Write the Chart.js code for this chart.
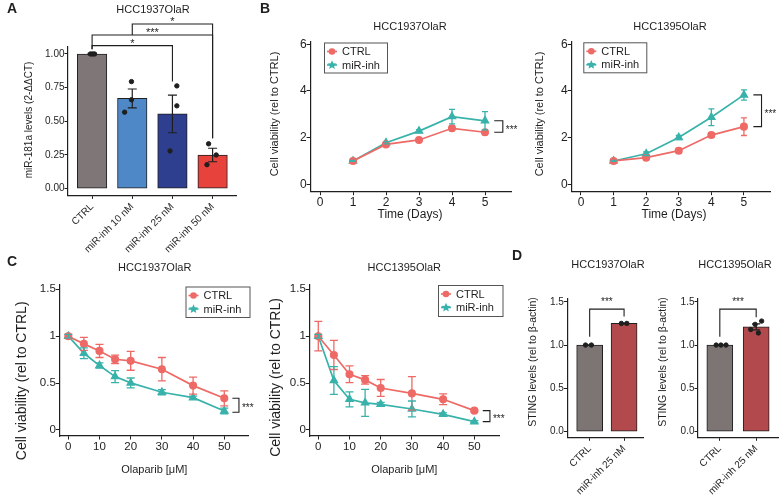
<!DOCTYPE html>
<html lang="en">
<head>
<meta charset="UTF-8">
<title>miR-181a inhibition in OlaR cells</title>
<script src="https://cdn.jsdelivr.net/npm/chart.js"></script>
<style>
  body { margin: 0; background: #fff; }
  #wrap { position: relative; width: 783px; height: 496px; overflow: hidden; }
  #wrap canvas { position: absolute; left: 0; top: 0; }
</style>
</head>
<body>
<div id="wrap">
  <canvas id="cA" width="783" height="496"></canvas>
  <canvas id="cB1" width="783" height="496"></canvas>
  <canvas id="cB2" width="783" height="496"></canvas>
  <canvas id="cC1" width="783" height="496"></canvas>
  <canvas id="cC2" width="783" height="496"></canvas>
  <canvas id="cD1" width="783" height="496"></canvas>
  <canvas id="cD2" width="783" height="496"></canvas>
</div>

<script>
  // ---- data ----
  const groupsA = ['CTRL', 'miR-inh 10 nM', 'miR-inh 25 nM', 'miR-inh 50 nM'];
  const meanA = [1.0, 0.67, 0.555, 0.25];
  const semA = [0.005, 0.07, 0.14, 0.05];
  const repsA = [[1.0, 1.0, 1.0], [0.795, 0.66, 0.568], [0.763, 0.615, 0.28], [0.333, 0.25, 0.178]];
  const ticksA = [0, 0.25, 0.5, 0.75, 1];

  const days = [1, 2, 3, 4, 5];
  const dayTicks = [0, 1, 2, 3, 4, 5];
  const growthTicks = [0, 2, 4, 6];
  const g1937Ctrl = [1.0, 1.71, 1.90, 2.40, 2.23];
  const g1937CtrlSd = [0.02, 0.05, 0.07, 0.10, 0.10];
  const g1937Inh = [1.0, 1.78, 2.28, 2.90, 2.72];
  const g1937InhSd = [0.02, 0.05, 0.06, 0.31, 0.39];
  const g1395Ctrl = [1.0, 1.14, 1.44, 2.11, 2.47];
  const g1395CtrlSd = [0.02, 0.06, 0.10, 0.10, 0.38];
  const g1395Inh = [1.0, 1.31, 2.01, 2.87, 3.83];
  const g1395InhSd = [0.02, 0.08, 0.09, 0.36, 0.22];

  const dose = [0, 5, 10, 15, 20, 30, 40, 50];
  const doseTicks = [0, 10, 20, 30, 40, 50];
  const viabTicks = [0, 0.5, 1, 1.5];
  const o1937Ctrl = [1.0, 0.918, 0.843, 0.754, 0.737, 0.648, 0.473, 0.338];
  const o1937CtrlSd = [0.02, 0.07, 0.07, 0.045, 0.10, 0.125, 0.09, 0.08];
  const o1937Inh = [1.0, 0.818, 0.687, 0.569, 0.502, 0.402, 0.345, 0.203];
  const o1937InhSd = [0.02, 0.057, 0.028, 0.064, 0.052, 0.028, 0.015, 0.03];
  const o1395Ctrl = [1.0, 0.80, 0.594, 0.534, 0.448, 0.39, 0.327, 0.206];
  const o1395CtrlSd = [0.157, 0.155, 0.09, 0.045, 0.09, 0.178, 0.057, 0.01];
  const o1395Inh = [1.0, 0.527, 0.327, 0.29, 0.274, 0.224, 0.167, 0.089];
  const o1395InhSd = [0.02, 0.148, 0.08, 0.144, 0.02, 0.085, 0.015, 0.01];

  const groupsD = ['CTRL', 'miR-inh 25 nM'];
  const sting1937Mean = [1.0, 1.25];
  const sting1937Sem = [0.003, 0.005];
  const sting1937Reps = [[1.0, 1.0], [1.25, 1.25]];
  const sting1395Mean = [1.0, 1.21];
  const sting1395Sem = [0.003, 0.035];
  const sting1395Reps = [[1.0, 1.0, 1.0], [1.277, 1.239, 1.18, 1.14]];
  const stingTicks = [0, 0.5, 1, 1.5];

  // ---- styling ----
  const FONT = '"Liberation Sans", Arial, sans-serif';
  const INK = '#1f1f1f';
  const RED = '#ee6a66';
  const TEAL = '#38b2aa';
  const W = 783, H = 496;
  Chart.defaults.font.family = FONT;
  Chart.defaults.color = INK;

  // horizontal spread of the replicate dots
  const jitA = [[-0.04, 0.06, 0.01], [-0.02, -0.02, -0.19], [0.11, 0.11, -0.06], [-0.1, 0.09, -0.14]];
  const jitD1 = [[-0.12, 0.05], [-0.08, 0.08]];
  const jitD2 = [[-0.1, 0.03, 0.17], [0.15, -0.03, -0.15, 0.06]];

  function axis(range, ticks, fmt, size, rot) {
    return {
      type: 'linear', min: range[0], max: range[1], offset: false,
      afterBuildTicks: s => { s.ticks = ticks.map(v => ({ value: v })); },
      grid: { offset: false, drawOnChartArea: false, tickLength: 3.5, color: INK },
      border: { color: INK, width: 1.2 },
      ticks: { color: INK, padding: rot ? 2 : 0, autoSkip: false, minRotation: rot || 0, maxRotation: rot || 0,
               font: { size: size }, callback: fmt }
    };
  }

  // box = chart area [left, top, right, bottom] in page pixels;
  // the axes take all the room to the left and below so labels are never clipped
  function options(box, x, y) {
    x.afterFit = s => { s.height = H - box[3]; };
    y.afterFit = s => { s.width = box[0]; };
    return {
      responsive: false, animation: false, events: [],
      layout: { padding: { left: 0, top: box[1], right: W - box[2], bottom: 0 } },
      plugins: { legend: { display: false }, tooltip: { enabled: false } },
      scales: { x: x, y: y }
    };
  }

  function star(ctx, cx, cy, r) {
    ctx.beginPath();
    for (let k = 0; k < 10; k++) {
      const a = -Math.PI / 2 + k * Math.PI / 5, rr = k % 2 ? r * 0.45 : r;
      ctx.lineTo(cx + rr * Math.cos(a), cy + rr * Math.sin(a));
    }
    ctx.closePath();
    ctx.fill();
  }

  function decor(spec) {
    return {
      id: 'decor',
      afterDatasetsDraw(chart) {
        const { ctx, scales: { x, y } } = chart;
        ctx.save();
        ctx.lineWidth = spec.errWidth || 1.3;
        chart.data.datasets.forEach(ds => {
          if (!ds.err) return;
          ctx.strokeStyle = ds.errColor || ds.borderColor;
          ds.data.forEach((p, i) => {
            const px = x.getPixelForValue(p.x);
            const top = y.getPixelForValue(p.y + ds.err[i]);
            const bot = y.getPixelForValue(p.y - ds.err[i]);
            const c = spec.cap;
            ctx.beginPath();
            ctx.moveTo(px, top); ctx.lineTo(px, bot);
            ctx.moveTo(px - c, top); ctx.lineTo(px + c, top);
            ctx.moveTo(px - c, bot); ctx.lineTo(px + c, bot);
            ctx.stroke();
          });
        });
        ctx.restore();
      },
      afterDraw(chart) {
        const { ctx, scales: { x, y } } = chart;
        ctx.save();
        ctx.strokeStyle = INK;
        ctx.fillStyle = INK;
        ctx.lineWidth = 1.1;
        ctx.textAlign = 'center';
        ctx.font = (spec.starSize || 10) + 'px ' + FONT;
        (spec.brackets || []).forEach(b => {
          const x1 = x.getPixelForValue(b.x1), x2 = x.getPixelForValue(b.x2), yy = y.getPixelForValue(b.y);
          ctx.beginPath();
          ctx.moveTo(x1, y.getPixelForValue(b.tip1));
          ctx.lineTo(x1, yy); ctx.lineTo(x2, yy);
          ctx.lineTo(x2, y.getPixelForValue(b.tip2));
          ctx.stroke();
          ctx.fillText(b.label, (x1 + x2) / 2, yy + spec.starDy);
        });
        (spec.side || []).forEach(b => {
          const x1 = x.getPixelForValue(b.x1), x2 = x.getPixelForValue(b.x2);
          const ya = y.getPixelForValue(b.y1), yb = y.getPixelForValue(b.y2);
          ctx.beginPath();
          ctx.moveTo(x1, ya); ctx.lineTo(x2, ya); ctx.lineTo(x2, yb); ctx.lineTo(x1, yb);
          ctx.stroke();
          ctx.textAlign = 'left';
          ctx.fillText(b.label, x2 + 3, (ya + yb) / 2 + 6);
        });
        if (spec.legend) {
          const L = spec.legend;
          ctx.strokeStyle = '#555';
          ctx.lineWidth = 1;
          ctx.strokeRect(L.x + 0.5, L.y + 0.5, L.w, L.h);
          ctx.font = '11px ' + FONT;
          ctx.textAlign = 'left';
          ctx.textBaseline = 'middle';
          chart.data.datasets.forEach((ds, i) => {
            const cy = L.y + 9 + i * 13.5, cx = L.x + 8;
            ctx.strokeStyle = ds.borderColor;
            ctx.fillStyle = ds.borderColor;
            ctx.lineWidth = 1.6;
            ctx.beginPath(); ctx.moveTo(cx - 5, cy); ctx.lineTo(cx + 5, cy); ctx.stroke();
            if (i === 0) { ctx.beginPath(); ctx.arc(cx, cy, 3.3, 0, 2 * Math.PI); ctx.fill(); }
            else star(ctx, cx, cy, 4.8);
            ctx.fillStyle = INK;
            ctx.fillText(ds.label, L.x + 18, cy + 0.5);
          });
        }
        ctx.textBaseline = 'middle';
        ctx.textAlign = 'center';
        ctx.fillStyle = INK;
        (spec.texts || []).forEach(t => {
          ctx.save();
          ctx.font = (t.bold ? 'bold ' : '') + t.size + 'px ' + FONT;
          ctx.translate(t.x, t.y);
          if (t.rot) ctx.rotate(-Math.PI / 2);
          ctx.fillText(t.s, 0, 0);
          ctx.restore();
        });
        ctx.restore();
      }
    };
  }

  function barChart(id, box, xr, groups, mean, sem, reps, jit, colors, yr, yTicks, yFmt, size, barW, spec) {
    return new Chart(document.getElementById(id), {
      type: 'bar',
      data: {
        datasets: [
          { type: 'scatter', order: 0, pointRadius: 2.2, backgroundColor: INK, borderColor: INK,
            data: reps.flatMap((r, i) => r.map((v, j) => ({ x: i + 1 + jit[i][j], y: v }))) },
          { order: 1, data: mean.map((v, i) => ({ x: i + 1, y: v })), err: sem, errColor: INK,
            backgroundColor: colors, borderColor: INK, borderWidth: 1, borderSkipped: false, barThickness: barW }
        ]
      },
      options: options(box,
        axis(xr, groups.map((g, i) => i + 1), v => groups[v - 1], size, 45),
        axis(yr, yTicks, yFmt, size)),
      plugins: [decor(spec)]
    });
  }

  function lineChart(id, box, xs, ctrl, ctrlSd, inh, inhSd, xAxis, yAxis, spec) {
    return new Chart(document.getElementById(id), {
      type: 'line',
      data: {
        datasets: [
          { label: 'CTRL', data: xs.map((v, i) => ({ x: v, y: ctrl[i] })), err: ctrlSd,
            borderColor: RED, backgroundColor: RED, borderWidth: 1.7, pointStyle: 'circle', pointRadius: 3.2 },
          { label: 'miR-inh', data: xs.map((v, i) => ({ x: v, y: inh[i] })), err: inhSd,
            borderColor: TEAL, backgroundColor: TEAL, borderWidth: 1.7, pointStyle: 'triangle', pointRadius: 3.8 }
        ]
      },
      options: options(box, xAxis, yAxis),
      plugins: [decor(spec)]
    });
  }

  const str = v => String(v);

  // ---- A ----
  barChart('cA', [68, 46.7, 236.7, 195.4], [0.4, 4.6], groupsA, meanA, semA, repsA, jitA,
    ['#7f7777', '#4e88c7', '#2f3f8f', '#e8423d'], [-0.05, 1.054], ticksA, v => v.toFixed(2), 10, 29.5, {
      cap: 4.5, errWidth: 1.2, starSize: 11, starDy: 1.5,
      brackets: [
        { x1: 1, x2: 3, y: 1.062, tip1: 1.035, tip2: 0.795, label: '*' },
        { x1: 1, x2: 4, y: 1.141, tip1: 1.035, tip2: 0.374, label: '***' },
        { x1: 2, x2: 4, y: 1.223, tip1: 1.141, tip2: 0.374, label: '*' }
      ],
      texts: [
        { s: 'A', x: 12, y: 9, size: 14, bold: true },
        { s: 'HCC1937OlaR', x: 153, y: 9.5, size: 11 },
        { s: 'miR-181a levels (2-ΔΔCT)', x: 29.3, y: 120, size: 10, rot: true }
      ]
    });

  // ---- B ----
  lineChart('cB1', [310.1, 41.7, 511.4, 191.7], days, g1937Ctrl, g1937CtrlSd, g1937Inh, g1937InhSd,
    axis([-0.3, 5.8], dayTicks, str, 12), axis([-0.317, 6.11], growthTicks, str, 12), {
      cap: 3,
      side: [{ x1: 5.28, x2: 5.54, y1: g1937Inh[4], y2: g1937Ctrl[4], label: '***' }],
      legend: { x: 324, y: 42.5, w: 63, h: 30 },
      texts: [
        { s: 'B', x: 265, y: 9, size: 14, bold: true },
        { s: 'HCC1937OlaR', x: 410, y: 26.7, size: 11 },
        { s: 'Cell viability (rel to CTRL)', x: 275, y: 114, size: 11, rot: true },
        { s: 'Time (Days)', x: 410, y: 215, size: 12 }
      ]
    });

  lineChart('cB2', [571.2, 41.7, 770, 191.7], days, g1395Ctrl, g1395CtrlSd, g1395Inh, g1395InhSd,
    axis([-0.3, 5.8], dayTicks, str, 12), axis([-0.317, 6.11], growthTicks, str, 12), {
      cap: 3,
      side: [{ x1: 5.29, x2: 5.54, y1: g1395Inh[4], y2: g1395Ctrl[4], label: '***' }],
      legend: { x: 583.3, y: 42.3, w: 63, h: 30 },
      texts: [
        { s: 'HCC1395OlaR', x: 670, y: 26.7, size: 11 },
        { s: 'Cell viability (rel to CTRL)', x: 540, y: 114, size: 11, rot: true },
        { s: 'Time (Days)', x: 674, y: 215, size: 12 }
      ]
    });

  // ---- C ----
  lineChart('cC1', [59.3, 284.3, 248, 436], dose, o1937Ctrl, o1937CtrlSd, o1937Inh, o1937InhSd,
    axis([-2.88, 57.6], doseTicks, str, 11.5), axis([-0.064, 1.553], viabTicks, str, 11.5), {
      cap: 4,
      side: [{ x1: 52.6, x2: 54.7, y1: o1937Ctrl[7], y2: o1937Inh[7] - 0.014, label: '***' }],
      legend: { x: 185.5, y: 286.5, w: 64, h: 30.5 },
      texts: [
        { s: 'C', x: 12, y: 262, size: 14, bold: true },
        { s: 'HCC1937OlaR', x: 154.7, y: 268.3, size: 11 },
        { s: 'Cell viability (rel to CTRL)', x: 21.7, y: 380.8, size: 14, rot: true },
        { s: 'Olaparib [μM]', x: 154.3, y: 470, size: 11 }
      ]
    });

  lineChart('cC2', [309.3, 284.3, 499.3, 436], dose, o1395Ctrl, o1395CtrlSd, o1395Inh, o1395InhSd,
    axis([-2.88, 58], doseTicks, str, 11.5), axis([-0.064, 1.553], viabTicks, str, 11.5), {
      cap: 4,
      side: [{ x1: 52.7, x2: 55, y1: o1395Ctrl[7], y2: o1395Inh[7], label: '***' }],
      legend: { x: 438, y: 285, w: 64.5, h: 31 },
      texts: [
        { s: 'HCC1395OlaR', x: 404.3, y: 268.3, size: 11 },
        { s: 'Cell viability (rel to CTRL)', x: 276, y: 377.5, size: 14, rot: true },
        { s: 'Olaparib [μM]', x: 404.3, y: 470, size: 11 }
      ]
    });

  // ---- D ----
  barChart('cD1', [567.3, 298.3, 643, 437.3], [0.35, 2.55], groupsD, sting1937Mean, sting1937Sem, sting1937Reps, jitD1,
    ['#7d7474', '#b24a4d'], [-0.065, 1.54], stingTicks, v => v.toFixed(1), 10, 26, {
      cap: 4, errWidth: 1.2, starSize: 10, starDy: -4.3,
      brackets: [{ x1: 1, x2: 2, y: 1.415, tip1: 1.097, tip2: 1.33, label: '***' }],
      texts: [
        { s: 'D', x: 517, y: 256, size: 14, bold: true },
        { s: 'HCC1937OlaR', x: 608, y: 265, size: 11 },
        { s: 'STING levels (rel to β-actin)', x: 533.3, y: 362, size: 10.5, rot: true }
      ]
    });

  barChart('cD2', [698, 298.3, 781.7, 437.3], [0.4, 2.6], groupsD, sting1395Mean, sting1395Sem, sting1395Reps, jitD2,
    ['#7d7474', '#b24a4d'], [-0.065, 1.54], stingTicks, v => v.toFixed(1), 10, 26, {
      cap: 4, errWidth: 1.2, starSize: 10, starDy: -4.3,
      brackets: [{ x1: 1, x2: 2, y: 1.415, tip1: 1.097, tip2: 1.32, label: '***' }],
      texts: [
        { s: 'HCC1395OlaR', x: 735, y: 265, size: 11 },
        { s: 'STING levels (rel to β-actin)', x: 663.3, y: 362, size: 10.5, rot: true }
      ]
    });
</script>
</body>
</html>
